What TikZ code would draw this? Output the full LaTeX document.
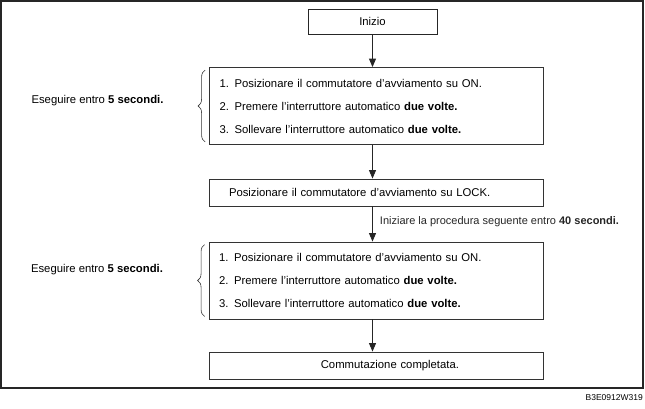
\documentclass[tikz,border=0pt]{standalone}
\usepackage{fontspec}
\setmainfont{Liberation Sans}
\usetikzlibrary{
	arrows.meta,
	positioning,
	decorations.pathreplacing
}
\tikzset{
	>={Triangle[width=7pt, length=8.5pt]},
	flowarrow/.style={->, line width=0.9pt, black!85},
	framebox/.style={draw=black!85, line width=1.3pt},
	startbox/.style={draw=black!85, line width=0.8pt, minimum width=129pt, minimum height=25pt, inner sep=0pt},
	stepbox/.style={draw=black!80, line width=0.8pt, minimum width=334pt, minimum height=27pt, inner ysep=0pt},
	listbox/.style={draw=black!80, line width=0.8pt, minimum width=334pt, minimum height=77pt,
		text width=314pt, inner xsep=10pt, align=left, font=\fontsize{11.3}{23}\selectfont},
	stepbrace/.style={draw=black!80, line width=0.6pt, decorate, decoration={brace, amplitude=7pt}},
	codelabel/.style={font=\fontsize{8.5}{9}\selectfont, anchor=south east, inner sep=0pt}
}

\begin{document}
\begin{tikzpicture}[x=1pt, y=-1pt, font=\fontsize{11.3}{13}\selectfont]
	\useasboundingbox (0,0) rectangle (645,408);
	% outer frame
	\draw[framebox] (1,1) rectangle (643,388);

	% boxes
	\node[startbox] (inizio) at (372.5,21.5) {Inizio};
	\node[listbox] (steps1) at (376.5,106) {1. Posizionare il commutatore d'avviamento su ON.\\
		2. Premere l'interruttore automatico \textbf{due volte.}\\
		3. Sollevare l'interruttore automatico \textbf{due volte.}};
	\node[stepbox, inner xsep=20pt, text width=294pt, align=left] (lock) at (376,192.5)
		{Posizionare il commutatore d'avviamento su LOCK.};
	\node[listbox] (steps2) at (376,280.5) {1. Posizionare il commutatore d'avviamento su ON.\\
		2. Premere l'interruttore automatico \textbf{due volte.}\\
		3. Sollevare l'interruttore automatico \textbf{due volte.}};
	\node[stepbox, inner xsep=84pt, text width=166pt, align=right] (done) at (376,365.5)
		{Commutazione completata.};

	% braces and notes
	\draw[stepbrace] ([xshift=-4pt, yshift=3pt]steps1.south west) -- ([xshift=-4pt, yshift=-3pt]steps1.north west);
	\draw[stepbrace] ([xshift=-4pt, yshift=3pt]steps2.south west) -- ([xshift=-4pt, yshift=-3pt]steps2.north west);
	\node (note1) at (97.5,101) {Eseguire entro \textbf{5 secondi.}};
	\node (note2) at (97,270) {Eseguire entro \textbf{5 secondi.}};

	% arrows
	\draw[flowarrow] (inizio.south) -- (inizio.south |- steps1.north);
	\draw[flowarrow] (steps1.south -| inizio.south) -- (lock.north -| inizio.south);
	\draw[flowarrow] (lock.south -| inizio.south) -- (steps2.north -| inizio.south)
		node[midway, right, inner sep=7pt, yshift=2pt, font=\fontsize{11}{13}\selectfont] (wait)
		{Iniziare la procedura seguente entro \textbf{40 secondi.}};
	\draw[flowarrow] (steps2.south -| inizio.south) -- (done.north -| inizio.south);

	\node[codelabel] (code) at (643,401) {B3E0912W319};
\end{tikzpicture}
\end{document}
